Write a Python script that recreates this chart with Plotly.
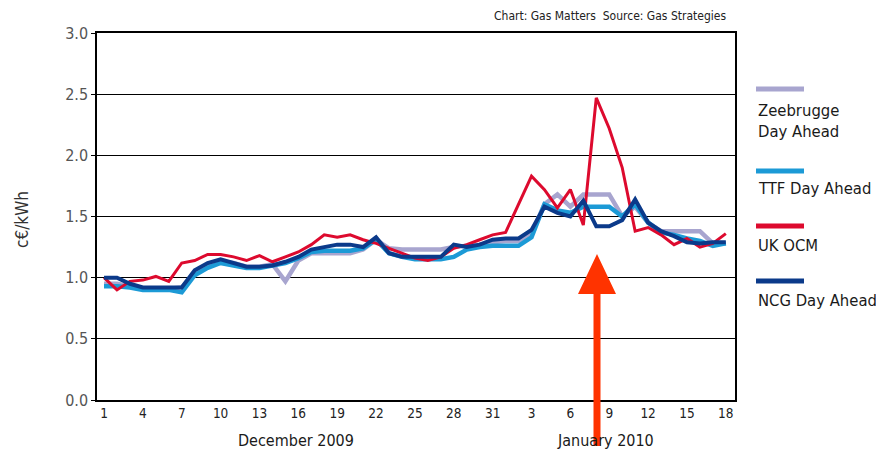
import pandas as pd
import plotly.graph_objects as go

dates = pd.date_range("2009-12-01", "2010-01-18", freq="D")

zeebrugge = [0.95, 0.95, 0.93, 0.91, 0.91, 0.91, 0.92, 1.04, 1.10, 1.13, 1.12, 1.09, 1.09, 1.11, 0.97,
             1.14, 1.20, 1.20, 1.20, 1.20, 1.23, 1.31, 1.24, 1.23, 1.23, 1.23, 1.23, 1.25, 1.26, 1.27,
             1.29, 1.30, 1.30, 1.36, 1.60, 1.68, 1.58, 1.68, 1.68, 1.68, 1.50, 1.58, 1.45, 1.38, 1.38,
             1.38, 1.38, 1.28, 1.28]
ttf = [0.93, 0.93, 0.92, 0.90, 0.90, 0.90, 0.88, 1.02, 1.08, 1.12, 1.10, 1.08, 1.08, 1.10, 1.12,
       1.16, 1.21, 1.22, 1.22, 1.22, 1.24, 1.31, 1.20, 1.17, 1.15, 1.15, 1.15, 1.17, 1.23, 1.25,
       1.26, 1.26, 1.26, 1.33, 1.60, 1.55, 1.53, 1.58, 1.58, 1.58, 1.50, 1.60, 1.45, 1.37, 1.35,
       1.32, 1.30, 1.26, 1.28]
uk_ocm = [1.00, 0.90, 0.97, 0.98, 1.01, 0.97, 1.12, 1.14, 1.19, 1.19, 1.17, 1.14, 1.18, 1.13, 1.17,
          1.21, 1.27, 1.35, 1.33, 1.35, 1.31, 1.28, 1.24, 1.20, 1.16, 1.14, 1.17, 1.24, 1.27, 1.31,
          1.35, 1.37, 1.60, 1.83, 1.72, 1.57, 1.72, 1.43, 2.47, 2.22, 1.90, 1.38, 1.41, 1.35, 1.27,
          1.32, 1.25, 1.28, 1.36]
ncg = [1.00, 1.00, 0.95, 0.92, 0.92, 0.92, 0.92, 1.06, 1.12, 1.15, 1.12, 1.09, 1.09, 1.10, 1.13,
       1.17, 1.23, 1.25, 1.27, 1.27, 1.25, 1.33, 1.20, 1.17, 1.17, 1.17, 1.17, 1.27, 1.25, 1.27,
       1.31, 1.32, 1.32, 1.39, 1.58, 1.53, 1.50, 1.63, 1.42, 1.42, 1.47, 1.64, 1.45, 1.38, 1.34,
       1.29, 1.28, 1.29, 1.29]

tick_dates = ["2009-12-01", "2009-12-04", "2009-12-07", "2009-12-10", "2009-12-13", "2009-12-16",
              "2009-12-19", "2009-12-22", "2009-12-25", "2009-12-28", "2009-12-31", "2010-01-03",
              "2010-01-06", "2010-01-09", "2010-01-12", "2010-01-15", "2010-01-18"]
tick_labels = ["1", "4", "7", "10", "13", "16", "19", "22", "25", "28", "31", "3", "6", "9", "12", "15", "18"]

series = [
    ("Zeebrugge<br>Day Ahead", zeebrugge, "#A8A5CF", 4.5),
    ("TTF Day Ahead", ttf, "#1C9AD6", 4.5),
    ("UK OCM", uk_ocm, "#DD0A2E", 3),
    ("NCG Day Ahead", ncg, "#0B3A8A", 4),
]

FONT = "DejaVu Sans Condensed, Liberation Sans Narrow, Roboto, sans-serif"

fig = go.Figure()
for name, vals, color, w in series:
    fig.add_trace(go.Scatter(x=dates, y=vals, mode="lines", name=name,
                             line=dict(color=color, width=w), showlegend=False))

OFF = 8  # default page body margin
W, H = 884 - OFF, 453 - OFF
L, R, T, B = 97, 735, 33, 400   # target page pixel positions of the plot area
pw, ph = R - L, B - T

def px(x):
    return (x - L) / pw

def py(y):
    return (B - y) / ph

fig.update_layout(
    width=W, height=H,
    margin=dict(l=L - OFF, r=(W + OFF) - R, t=T - OFF, b=(H + OFF) - B),
    paper_bgcolor="white", plot_bgcolor="white",
    font=dict(family=FONT, color="#222"),
    xaxis=dict(range=["2009-11-30 11:00", "2010-01-18 17:00"], tickvals=tick_dates, ticktext=tick_labels,
               showgrid=False, showline=True, mirror=True, linecolor="black", linewidth=1.5,
               ticks="", tickfont=dict(size=13.5, color="#222"), zeroline=False),
    yaxis=dict(range=[0, 3], dtick=0.5, tickformat=".1f", showgrid=True, gridcolor="black", gridwidth=1.2,
               showline=True, mirror=True, linecolor="black", linewidth=1.5, zeroline=False,
               ticks="outside", ticklen=4, tickcolor="black", tickfont=dict(size=16, color="#555")),
)

# Legend (custom, line above label)
legend_items = [
    ("Zeebrugge<br>Day Ahead", "#A8A5CF", 89, 99),
    ("TTF Day Ahead", "#1C9AD6", 171, 177),
    ("UK OCM", "#DD0A2E", 226, 234),
    ("NCG Day Ahead", "#0B3A8A", 281, 289),
]
for text, color, ybar, ytext in legend_items:
    fig.add_shape(type="line", xref="paper", yref="paper", x0=px(756), x1=px(804), y0=py(ybar), y1=py(ybar),
                  line=dict(color=color, width=5))
    fig.add_annotation(text=text, xref="paper", yref="paper", x=px(756), y=py(ytext), xanchor="left",
                       yanchor="top", showarrow=False, align="left",
                       font=dict(size=16.5, color="#1a1a1a", family=FONT))

# Month labels
fig.add_annotation(text="December 2009", xref="paper", yref="paper", x=px(296), y=py(440),
                   xanchor="center", yanchor="middle",
                   showarrow=False, font=dict(size=16, color="#1a1a1a"))
fig.add_annotation(text="January 2010", xref="paper", yref="paper", x=px(605), y=py(440),
                   xanchor="center", yanchor="middle",
                   showarrow=False, font=dict(size=16, color="#1a1a1a"))

# Y title
fig.add_annotation(text="c€/kWh", xref="paper", yref="paper", x=px(22), y=py(220), textangle=-90,
                   xanchor="center", yanchor="middle",
                   showarrow=False, font=dict(size=17, color="#333"))

# Source
fig.add_annotation(text="Chart: Gas Matters  Source: Gas Strategies", xref="paper", yref="paper",
                   x=px(728), y=py(16), xanchor="right", yanchor="middle", showarrow=False,
                   font=dict(size=12, color="#222"))

# Arrow
cx = 597
path = (f"M {px(cx-19)},{py(294)} L {px(cx)},{py(254)} L {px(cx+19)},{py(294)} "
        f"L {px(cx+3.5)},{py(294)} L {px(cx+3.5)},{py(446)} L {px(cx-3.5)},{py(446)} "
        f"L {px(cx-3.5)},{py(294)} Z")
fig.add_shape(type="path", xref="paper", yref="paper", path=path, fillcolor="#FF3300",
              line=dict(width=0), layer="above")

fig.write_html("out.html")
